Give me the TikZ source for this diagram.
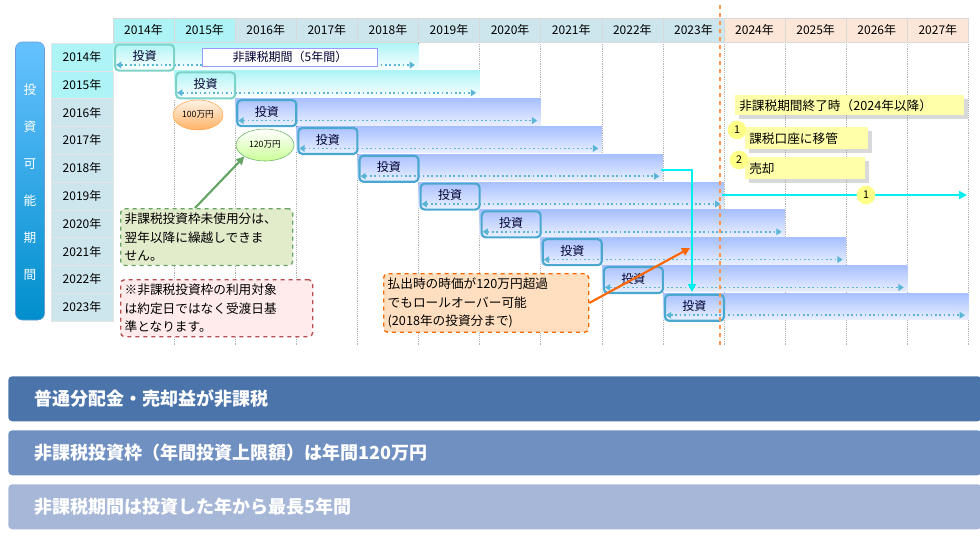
\documentclass[tikz,border=0pt]{standalone}
\usepackage{fontspec}
\setmainfont{Noto Sans CJK JP}
\usetikzlibrary{arrows.meta,shadows,shapes.geometric}
\definecolor{hdr}{HTML}{CDE6EE}
\definecolor{hcy}{HTML}{AEF4F6}
\definecolor{hpe}{HTML}{FCE6D8}
\definecolor{dotc}{HTML}{5BB6D6}
\definecolor{bblue}{HTML}{A8C0FF}
\definecolor{tealb}{HTML}{7DD3C8}
\definecolor{blueb}{HTML}{4AA8D0}
\definecolor{band1}{HTML}{4A74AA}
\definecolor{band2}{HTML}{7090C2}
\definecolor{band3}{HTML}{A6B7D8}
\definecolor{ylw}{HTML}{FFFFAA}
\definecolor{cyanl}{HTML}{00F0F0}
\tikzset{
  cellbox/.style={draw=black!15,minimum width=61.1*0.75pt,minimum height=24*0.75pt,inner sep=0,font=\fontsize{9}{9}\selectfont},
  rowbox/.style={draw=black!10,fill=hdr,minimum width=62*0.75pt,minimum height=27.8*0.75pt,inner sep=0,font=\fontsize{9}{9}\selectfont},
  invbox/.style={draw,line width=1.6pt,rounded corners=3pt,minimum width=59*0.75pt,minimum height=26*0.75pt,inner sep=0,anchor=north west,font=\fontsize{9}{9}\selectfont,text=black!70!blue!60!black},
  note/.style={fill=ylw,drop shadow={opacity=0.3},inner sep=3pt,anchor=north west,align=left,font=\fontsize{9.5}{10}\selectfont},
  callout/.style={draw,dashed,line width=1pt,rounded corners=3pt,anchor=north west,align=left,inner sep=3pt,font=\fontsize{9.5}{14}\selectfont},
  band/.style={rounded corners=3pt,minimum width=960*0.75pt,minimum height=45*0.75pt,anchor=north west,text=white,font=\bfseries\fontsize{13.5}{13.5}\selectfont,text width=920*0.75pt,align=left,inner xsep=20pt},
  circ/.style={circle,fill=ylw!80!yellow,inner sep=1pt,minimum size=14pt,font=\fontsize{8}{8}\selectfont}
}
\begin{document}
\begin{tikzpicture}[x=0.75pt,y=-0.75pt]
\useasboundingbox (0,0) rectangle (980,550);
% grid lines
\foreach \i in {1,...,14}{
  \draw[black!30,densely dotted] (113+61.1*\i,42) -- (113+61.1*\i,345);
}
% header
\foreach \i in {0,...,13}{
  \pgfmathtruncatemacro\yr{2014+\i}
  \ifnum\i<2 \def\cc{hcy}\else\ifnum\i<10 \def\cc{hdr}\else\def\cc{hpe}\fi\fi
  \node[cellbox,fill=\cc] (h\i) at (113+61.1*\i+30.55,30) {\yr 年};
}
% row labels
\foreach \r in {0,...,9}{
  \pgfmathtruncatemacro\yr{2014+\r}
  \ifnum\r<2 \def\cc{hcy}\else\def\cc{hdr}\fi
  \node[rowbox,fill=\cc] (r\r) at (82,43+27.8*\r+13.9) {\yr 年};
}
% bars
\foreach \r in {0,...,9}{
  \ifnum\r<2
    \fill[top color=hcy,bottom color=white] (113+61.1*\r,43+27.8*\r) rectangle (113+61.1*\r+305.5,43+27.8*\r+27.8);
  \else
    \fill[top color=bblue,bottom color=bblue!25] (113+61.1*\r,43+27.8*\r) rectangle (113+61.1*\r+305.5,43+27.8*\r+26.5);
  \fi
  \coordinate (ds\r) at (113+61.1*\r+3,43+27.8*\r+22);
  \coordinate (de\r) at (113+61.1*\r+302,43+27.8*\r+22);
  \draw[dotc,line width=1.3pt,dotted,{Triangle[length=4pt,width=5pt]}-{Triangle[length=4pt,width=5pt]}] (ds\r) -- (de\r);
  \ifnum\r<2 \def\bc{tealb}\else\def\bc{blueb}\fi
  \node[invbox,draw=\bc] (inv\r) at (114+61.1*\r,43.5+27.8*\r) {\raisebox{3pt}{投資}};
}
\node[draw=blue!40,fill=white,minimum width=175*0.75pt,minimum height=18*0.75pt,inner sep=0,font=\fontsize{9}{9}\selectfont,text=black!60!blue!50!black] (tf) at (290,57) {非課税期間（5年間）};
% pill
\node[rounded corners=5pt,top color=cyan!60!blue!60,bottom color=cyan!70!blue!80!black,draw=cyan!50!blue!60,minimum width=29*0.75pt,minimum height=278*0.75pt,inner sep=0] (pill) at (30,181) {};
\foreach \t [count=\k] in {投,資,可,能,期,間}{
  \node[text=white,font=\fontsize{9.5}{9.5}\selectfont] (p\k) at (30,53+37*\k) {\t};
}
% ellipses
\node[ellipse,draw=orange!70,top color=orange!10,bottom color=orange!60,minimum width=50*0.75pt,minimum height=30*0.75pt,inner sep=0,font=\fontsize{6.5}{6.5}\selectfont] (e100) at (198,115) {100万円};
\node[ellipse,draw=green!50!black!60,top color=white,bottom color=green!50!yellow!40,minimum width=58*0.75pt,minimum height=32*0.75pt,inner sep=0,font=\fontsize{6.5}{6.5}\selectfont] (e120) at (265,145) {120万円};
% orange dashed line
\draw[orange!80!red!70,dashed,line width=1.2pt] (720,5) -- (720,345);
% cyan connectors
\draw[cyanl,line width=1.6pt,-{Triangle[length=6pt,width=6pt]}] (de4) ++(2,-6) -| (692,292);
\coordinate (ce) at (967,195);
\draw[cyanl,line width=1.6pt,-{Triangle[length=6pt,width=6pt]}] (722,195) -- (ce);
\node[circ] (k1) at (866,195) {1};
% notes
\node[note,text width=221*0.75pt,minimum height=19*0.75pt] (n0) at (735,95) {非課税期間終了時（2024年以降）};
\node[note,text width=115*0.75pt,minimum height=22*0.75pt] (n1) at (745,127) {課税口座に移管};
\node[circ] (k2) at (737,130) {1};
\node[note,text width=112*0.75pt,minimum height=22*0.75pt] (n2) at (745,157) {売却};
\node[circ] (k3) at (739,160) {2};
% callouts
\node[callout,draw=green!40!black!60,fill=green!30!yellow!15!white!85!gray,text width=164*0.75pt] (g) at (120,208) {非課税投資枠未使用分は、\\翌年以降に繰越しできま\\せん。};
\draw[green!40!black!60,line width=1.6pt,-{Triangle[length=6pt,width=6pt]}] (195,208) -- (e120.south west);
\node[callout,draw=red!60!black!70,fill=red!8,text width=184*0.75pt] (p) at (120,279) {※非課税投資枠の利用対象\\は約定日ではなく受渡日基\\準となります。};
\node[callout,draw=orange!80!red,fill=orange!25,text width=197*0.75pt] (o) at (383,273) {払出時の時価が120万円超過\\でもロールオーバー可能\\(2018年の投資分まで)};
\coordinate (oa) at (690,248);
\draw[orange!80!red,line width=1.6pt,-{Triangle[length=6pt,width=6pt]}] (o.east) -- (oa);
% bands
\node[band,fill=band1] (b1) at (8,376) {普通分配金・売却益が非課税};
\node[band,fill=band2] (b2) at (8,430) {非課税投資枠（年間投資上限額）は年間120万円};
\node[band,fill=band3] (b3) at (8,484) {非課税期間は投資した年から最長5年間};
\end{tikzpicture}
\end{document}
